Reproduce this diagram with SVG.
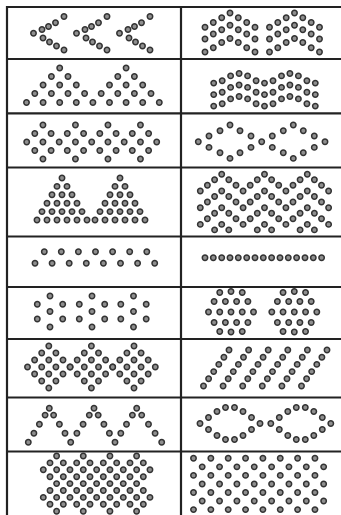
<svg xmlns="http://www.w3.org/2000/svg" xmlns:xlink="http://www.w3.org/1999/xlink" width="341" height="515" viewBox="0 0 341 515">
<style>
.dot{fill:#8f8f8f;stroke:#333333;stroke-width:1.5}
.grid line{stroke:#222222;stroke-width:2.2}
</style>
<defs>
<circle id="d" class="dot" r="2.7"/>
<g id="chev">
<use href="#d" x="33.5" y="33.3"/><use href="#d" x="42" y="29.5"/><use href="#d" x="48.5" y="26.5"/><use href="#d" x="55.5" y="22.8"/><use href="#d" x="64" y="16.5"/>
<use href="#d" x="43" y="38"/><use href="#d" x="49.5" y="42"/><use href="#d" x="56.5" y="46"/><use href="#d" x="64" y="50"/>
</g>
<g id="arch">
<use href="#d" x="-25" y="27.3"/><use href="#d" x="-16.7" y="22.5"/><use href="#d" x="-8.3" y="17.7"/><use href="#d" x="0" y="13"/><use href="#d" x="8.3" y="17.7"/><use href="#d" x="16.7" y="22.5"/><use href="#d" x="25" y="27.3"/>
<use href="#d" x="-25" y="39"/><use href="#d" x="-16.7" y="34"/><use href="#d" x="-8.3" y="29.7"/><use href="#d" x="0" y="25.3"/><use href="#d" x="8.3" y="29.7"/><use href="#d" x="16.7" y="34"/><use href="#d" x="25" y="39"/>
<use href="#d" x="-25" y="52"/><use href="#d" x="-16.7" y="47.7"/><use href="#d" x="-8.3" y="42.5"/><use href="#d" x="0" y="38.5"/><use href="#d" x="8.3" y="42.5"/><use href="#d" x="16.7" y="47.7"/><use href="#d" x="25" y="52"/>
</g>
<g id="wv">
<use href="#d" x="213.7" y="4.8"/><use href="#d" x="222.2" y="2.4"/><use href="#d" x="230.6" y="-2.4"/><use href="#d" x="239.1" y="-4.8"/><use href="#d" x="247.6" y="-2.4"/><use href="#d" x="256.1" y="2.4"/><use href="#d" x="264.5" y="4.8"/><use href="#d" x="273" y="2.4"/><use href="#d" x="281.5" y="-2.4"/><use href="#d" x="289.9" y="-4.8"/><use href="#d" x="298.4" y="-2.4"/><use href="#d" x="306.9" y="2.4"/><use href="#d" x="315.3" y="4.8"/>
</g>
<g id="lz">
<use href="#d" x="-21" y="-5.7"/><use href="#d" x="-10" y="-11"/><use href="#d" x="0" y="-16.7"/><use href="#d" x="10" y="-11"/><use href="#d" x="21" y="-5.7"/>
<use href="#d" x="-21" y="5.7"/><use href="#d" x="-10" y="11"/><use href="#d" x="0" y="16.7"/><use href="#d" x="10" y="11"/><use href="#d" x="21" y="5.7"/>
</g>
<g id="tri">
<use href="#d" x="0" y="0"/>
<use href="#d" x="-5" y="8.4"/><use href="#d" x="5" y="8.4"/>
<use href="#d" x="-10" y="16.8"/><use href="#d" x="0" y="16.8"/><use href="#d" x="10" y="16.8"/>
<use href="#d" x="-15" y="25.2"/><use href="#d" x="-5" y="25.2"/><use href="#d" x="5" y="25.2"/><use href="#d" x="15" y="25.2"/>
<use href="#d" x="-20" y="33.6"/><use href="#d" x="-10" y="33.6"/><use href="#d" x="0" y="33.6"/><use href="#d" x="10" y="33.6"/><use href="#d" x="20" y="33.6"/>
<use href="#d" x="-25" y="42"/><use href="#d" x="-15" y="42"/><use href="#d" x="-5" y="42"/><use href="#d" x="5" y="42"/><use href="#d" x="15" y="42"/><use href="#d" x="25" y="42"/>
</g>
<g id="col3"><use href="#d" y="0"/><use href="#d" y="16.7"/><use href="#d" y="33.4"/></g>
<g id="col4"><use href="#col3"/><use href="#d" y="50.1"/></g>
<g id="hx">
<use href="#d" x="0" y="-15.5"/><use href="#d" x="0" y="0"/><use href="#d" x="0" y="15.5"/>
<use href="#d" x="-12.7" y="-7.2"/><use href="#d" x="-12.7" y="7.5"/><use href="#d" x="12.7" y="-7.2"/><use href="#d" x="12.7" y="7.5"/>
</g>
<g id="cl">
<use href="#d" x="-11.25" y="-19.5"/><use href="#d" x="0" y="-20.5"/><use href="#d" x="11.25" y="-19.5"/>
<use href="#d" x="-16.9" y="-10.5"/><use href="#d" x="-5.6" y="-10.5"/><use href="#d" x="5.6" y="-10.5"/><use href="#d" x="16.9" y="-10.5"/>
<use href="#d" x="-22.5" y="0"/><use href="#d" x="-11.25" y="0"/><use href="#d" x="0" y="0"/><use href="#d" x="11.25" y="0"/><use href="#d" x="22.5" y="0"/>
<use href="#d" x="-16.9" y="10.5"/><use href="#d" x="-5.6" y="10.5"/><use href="#d" x="5.6" y="10.5"/><use href="#d" x="16.9" y="10.5"/>
<use href="#d" x="-11.25" y="19.5"/><use href="#d" x="0" y="20"/><use href="#d" x="11.25" y="19.5"/>
</g>
<g id="dia">
<use href="#d" x="0" y="-21"/>
<use href="#d" x="-7.1" y="-14"/><use href="#d" x="7.1" y="-14"/>
<use href="#d" x="-14.2" y="-7"/><use href="#d" x="0" y="-7"/><use href="#d" x="14.2" y="-7"/>
<use href="#d" x="-21.3" y="0"/><use href="#d" x="-7.1" y="0"/><use href="#d" x="7.1" y="0"/><use href="#d" x="21.3" y="0"/>
<use href="#d" x="-14.2" y="7"/><use href="#d" x="0" y="7"/><use href="#d" x="14.2" y="7"/>
<use href="#d" x="-7.1" y="14"/><use href="#d" x="7.1" y="14"/>
<use href="#d" x="0" y="21"/>
</g>
<g id="diag">
<use href="#d" x="0" y="0"/><use href="#d" x="5.1" y="-7.2"/><use href="#d" x="10.2" y="-14.4"/><use href="#d" x="15.3" y="-21.6"/><use href="#d" x="20.4" y="-28.8"/><use href="#d" x="25.5" y="-36"/>
</g>
<g id="lens2">
<use href="#d" x="-30" y="0"/><use href="#d" x="30" y="0"/>
<use href="#d" x="-21.5" y="-6"/><use href="#d" x="-13" y="-12"/><use href="#d" x="-4.5" y="-16"/><use href="#d" x="4.5" y="-16"/><use href="#d" x="13" y="-12"/><use href="#d" x="21.5" y="-6"/>
<use href="#d" x="-21.5" y="6"/><use href="#d" x="-13" y="12"/><use href="#d" x="-4.5" y="16"/><use href="#d" x="4.5" y="16"/><use href="#d" x="13" y="12"/><use href="#d" x="21.5" y="6"/>
</g>
<g id="e8">
<use href="#d" x="0"/><use href="#d" x="13.33"/><use href="#d" x="26.67"/><use href="#d" x="40"/><use href="#d" x="53.33"/><use href="#d" x="66.67"/><use href="#d" x="80"/><use href="#d" x="93.33"/>
</g>
<g id="o9"><use href="#e8"/><use href="#d" x="106.67"/></g>
<g id="o7">
<use href="#d" x="0"/><use href="#d" x="13.33"/><use href="#d" x="26.67"/><use href="#d" x="40"/><use href="#d" x="53.33"/><use href="#d" x="66.67"/><use href="#d" x="80"/>
</g>
<g id="o4"><use href="#d" x="0"/><use href="#d" x="26.67"/><use href="#d" x="53.33"/><use href="#d" x="80"/></g>
<g id="r8b">
<use href="#d" x="0"/><use href="#d" x="17.35"/><use href="#d" x="34.7"/><use href="#d" x="52.05"/><use href="#d" x="69.4"/><use href="#d" x="86.75"/><use href="#d" x="104.1"/><use href="#d" x="121.45"/>
</g>
</defs>
<rect width="341" height="515" fill="#ffffff"/>
<g id="grid" class="grid">
<line x1="6" y1="7" x2="341" y2="7"/>
<line x1="6" y1="59" x2="341" y2="59"/>
<line x1="6" y1="113.3" x2="341" y2="113.3"/>
<line x1="6" y1="167.5" x2="341" y2="167.5"/>
<line x1="6" y1="236.5" x2="341" y2="236.5"/>
<line x1="6" y1="287" x2="341" y2="287"/>
<line x1="6" y1="339" x2="341" y2="339"/>
<line x1="6" y1="397.5" x2="341" y2="397.5"/>
<line x1="6" y1="451.5" x2="341" y2="451.5"/>
<line x1="7" y1="6" x2="7" y2="515"/>
<line x1="181" y1="6" x2="181" y2="515"/>
</g>
<g id="connectors"/>
<g id="cell1L"><use href="#chev"/><use href="#chev" x="43"/><use href="#chev" x="86"/></g>
<g id="cell1R"><use href="#arch" x="230"/><use href="#arch" x="294.5"/></g>
<g id="cell2L">
<use href="#d" x="59.7" y="68"/><use href="#d" x="126.1" y="68"/>
<use href="#d" x="51.4" y="76.5"/><use href="#d" x="68" y="76.5"/><use href="#d" x="117.8" y="76.5"/><use href="#d" x="134.4" y="76.5"/>
<use href="#d" x="43.1" y="85"/><use href="#d" x="59.7" y="85"/><use href="#d" x="76.3" y="85"/><use href="#d" x="109.5" y="85"/><use href="#d" x="126.1" y="85"/><use href="#d" x="142.7" y="85"/>
<use href="#d" x="34.8" y="93.5"/><use href="#d" x="51.4" y="93.5"/><use href="#d" x="68" y="93.5"/><use href="#d" x="84.6" y="93.5"/><use href="#d" x="101.2" y="93.5"/><use href="#d" x="117.8" y="93.5"/><use href="#d" x="134.4" y="93.5"/><use href="#d" x="151" y="93.5"/>
<use href="#d" x="26.5" y="102.5"/><use href="#d" x="43.1" y="102.5"/><use href="#d" x="59.7" y="102.5"/><use href="#d" x="76.3" y="102.5"/><use href="#d" x="92.9" y="102.5"/><use href="#d" x="109.5" y="102.5"/><use href="#d" x="126.1" y="102.5"/><use href="#d" x="142.7" y="102.5"/><use href="#d" x="159.3" y="102.5"/>
</g>
<g id="cell2R"><use href="#wv" y="78.3"/><use href="#wv" y="89.8"/><use href="#wv" y="101.3"/></g>
<g id="cell3L">
<use href="#d" x="42.95" y="125"/><use href="#d" x="75.45" y="125"/><use href="#d" x="107.95" y="125"/><use href="#d" x="140.45" y="125"/>
<use href="#d" x="34.8" y="133.5"/><use href="#d" x="51.1" y="133.5"/><use href="#d" x="67.3" y="133.5"/><use href="#d" x="83.6" y="133.5"/><use href="#d" x="99.8" y="133.5"/><use href="#d" x="116.1" y="133.5"/><use href="#d" x="132.3" y="133.5"/><use href="#d" x="148.6" y="133.5"/>
<use href="#d" x="26.7" y="142"/><use href="#d" x="42.95" y="142"/><use href="#d" x="59.2" y="142"/><use href="#d" x="75.45" y="142"/><use href="#d" x="91.7" y="142"/><use href="#d" x="107.95" y="142"/><use href="#d" x="124.2" y="142"/><use href="#d" x="140.45" y="142"/><use href="#d" x="156.7" y="142"/>
<use href="#d" x="34.8" y="150.5"/><use href="#d" x="51.1" y="150.5"/><use href="#d" x="67.3" y="150.5"/><use href="#d" x="83.6" y="150.5"/><use href="#d" x="99.8" y="150.5"/><use href="#d" x="116.1" y="150.5"/><use href="#d" x="132.3" y="150.5"/><use href="#d" x="148.6" y="150.5"/>
<use href="#d" x="42.95" y="159"/><use href="#d" x="75.45" y="159"/><use href="#d" x="107.95" y="159"/><use href="#d" x="140.45" y="159"/>
</g>
<g id="cell3R">
<use href="#d" x="198.3" y="141.7"/><use href="#d" x="261.7" y="141.7"/><use href="#d" x="325" y="141.7"/>
<use href="#lz" x="230" y="141.7"/><use href="#lz" x="293.3" y="141.7"/>
</g>
<g id="cell4L"><use href="#tri" x="62" y="178"/><use href="#tri" x="120" y="178"/></g>
<g id="cell4R">
<use href="#col3" x="200.3" y="191"/><use href="#col3" x="207.4" y="185.3"/><use href="#col4" x="214.6" y="179.8"/><use href="#col4" x="221.7" y="174.3"/><use href="#col4" x="228.8" y="179.8"/><use href="#col3" x="236" y="185.3"/>
<use href="#col3" x="243.1" y="191"/><use href="#col3" x="250.2" y="185.3"/><use href="#col4" x="257.3" y="179.8"/><use href="#col4" x="264.5" y="174.3"/><use href="#col4" x="271.6" y="179.8"/><use href="#col3" x="278.7" y="185.3"/>
<use href="#col3" x="285.9" y="191"/><use href="#col3" x="293" y="185.3"/><use href="#col4" x="300.1" y="179.8"/><use href="#col4" x="307.3" y="174.3"/><use href="#col4" x="314.4" y="179.8"/><use href="#col3" x="321.5" y="185.3"/>
<use href="#col3" x="328.6" y="191"/>
</g>
<g id="cell5L">
<use href="#d" x="44.3" y="251.7"/><use href="#d" x="61.3" y="251.7"/><use href="#d" x="78.4" y="251.7"/><use href="#d" x="95.5" y="251.7"/><use href="#d" x="112.6" y="251.7"/><use href="#d" x="129.7" y="251.7"/><use href="#d" x="146.8" y="251.7"/>
<use href="#d" x="35" y="263.3"/><use href="#d" x="52.1" y="263.3"/><use href="#d" x="69.2" y="263.3"/><use href="#d" x="86.3" y="263.3"/><use href="#d" x="103.4" y="263.3"/><use href="#d" x="120.5" y="263.3"/><use href="#d" x="137.6" y="263.3"/><use href="#d" x="154.7" y="263.3"/>
</g>
<g id="cell5R">
<use href="#d" x="205" y="257.7"/><use href="#d" x="213.3" y="257.7"/><use href="#d" x="221.7" y="257.7"/><use href="#d" x="230" y="257.7"/><use href="#d" x="238.3" y="257.7"/><use href="#d" x="246.7" y="257.7"/><use href="#d" x="255" y="257.7"/><use href="#d" x="263.3" y="257.7"/><use href="#d" x="271.6" y="257.7"/><use href="#d" x="280" y="257.7"/><use href="#d" x="288.3" y="257.7"/><use href="#d" x="296.6" y="257.7"/><use href="#d" x="305" y="257.7"/><use href="#d" x="313.3" y="257.7"/><use href="#d" x="321.6" y="257.7"/>
</g>
<g id="cell6L"><use href="#hx" x="50" y="311.5"/><use href="#hx" x="92" y="311.5"/><use href="#hx" x="133.5" y="311.5"/></g>
<g id="cell6R"><use href="#cl" x="231" y="312"/><use href="#cl" x="294.3" y="312"/></g>
<g id="cell7L"><use href="#dia" x="48.8" y="367"/><use href="#dia" x="91.4" y="367"/><use href="#dia" x="134" y="367"/></g>
<g id="cell7R">
<use href="#diag" x="203.5" y="386"/><use href="#diag" x="223.1" y="386"/><use href="#diag" x="242.7" y="386"/><use href="#diag" x="262.3" y="386"/><use href="#diag" x="281.9" y="386"/><use href="#diag" x="301.5" y="386"/>
</g>
<g id="cell8L">
<use href="#d" x="28.3" y="442.3"/><use href="#d" x="70.7" y="442.3"/><use href="#d" x="115" y="442.3"/><use href="#d" x="161.7" y="442.3"/>
<use href="#d" x="49.3" y="408.3"/><use href="#d" x="94" y="408.3"/><use href="#d" x="136.7" y="408.3"/>
<use href="#d" x="33.9" y="433.3"/><use href="#d" x="65" y="433.3"/><use href="#d" x="76.9" y="433.3"/><use href="#d" x="109.4" y="433.3"/><use href="#d" x="120.8" y="433.3"/><use href="#d" x="155.1" y="433.3"/>
<use href="#d" x="39.4" y="424.3"/><use href="#d" x="59.4" y="424.3"/><use href="#d" x="83.1" y="424.3"/><use href="#d" x="103.9" y="424.3"/><use href="#d" x="126.5" y="424.3"/><use href="#d" x="148.5" y="424.3"/>
<use href="#d" x="45.1" y="415.1"/><use href="#d" x="53.6" y="415.1"/><use href="#d" x="89.3" y="415.1"/><use href="#d" x="98.2" y="415.1"/><use href="#d" x="132.4" y="415.1"/><use href="#d" x="141.7" y="415.1"/>
</g>
<g id="cell8R"><use href="#lens2" x="230" y="423.5"/><use href="#lens2" x="300.8" y="423.5"/></g>
<g id="cell9L">
<use href="#o4" x="56.6" y="456"/>
<use href="#e8" x="50" y="462.9"/>
<use href="#o9" x="43.3" y="469.8"/>
<use href="#e8" x="50" y="476.7"/>
<use href="#o7" x="56.6" y="483.6"/>
<use href="#e8" x="50" y="490.5"/>
<use href="#o9" x="43.3" y="497.4"/>
<use href="#e8" x="50" y="504.3"/>
<use href="#o4" x="56.6" y="511.2"/>
</g>
<g id="cell9R">
<use href="#r8b" x="193.5" y="458.3"/><use href="#r8b" x="202.2" y="466.85"/><use href="#r8b" x="193.5" y="475.4"/><use href="#r8b" x="202.2" y="483.95"/><use href="#r8b" x="193.5" y="492.5"/><use href="#r8b" x="202.2" y="501.05"/><use href="#r8b" x="193.5" y="509.6"/>
</g>
</svg>
